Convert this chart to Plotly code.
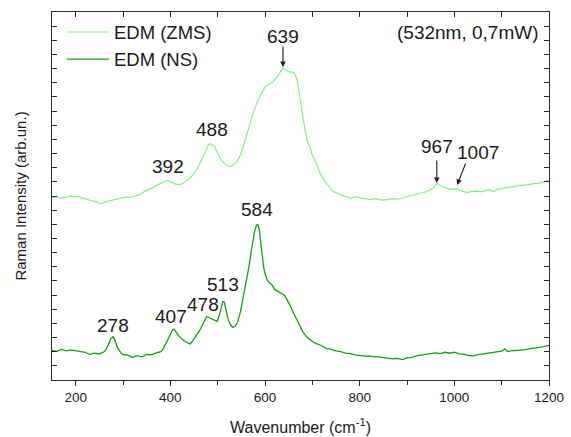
import plotly.graph_objects as go

# ---- data ----
ns_wavenumber = [150,160,170,180,190,200,210,220,230,240,250,260,265,270,275,279,283,288,295,300,
                 310,320,330,340,350,360,370,380,385,390,395,400,405,408,412,418,425,432,438,442,
                 448,455,462,468,473,477,482,488,494,499,503,507,511,514,518,522,527,532,537,542,
                 548,553,558,562,566,570,574,578,582,585,588,591,594,597,601,605,610,615,620,626,
                 632,638,642,648,654,660,667,673,680,688,695,701,710,720,730,740,750,760,770,780,
                 790,800,810,820,830,840,850,860,870,880,890,900,910,920,930,940,950,960,970,980,
                 990,1000,1010,1020,1030,1040,1050,1060,1070,1080,1090,1100,1107,1112,1120,1130,
                 1140,1150,1160,1170,1180,1190,1200]
ns_intensity = [2.10,2.02,2.16,2.06,2.13,2.09,2.03,1.96,1.80,1.90,1.84,1.99,2.20,2.55,2.95,3.05,2.80,2.30,1.95,1.80,
                1.76,1.60,1.72,1.64,1.80,1.78,1.92,2.00,2.20,2.55,2.90,3.25,3.55,3.60,3.40,3.10,2.90,2.70,2.60,2.55,
                2.80,3.15,3.50,3.90,4.30,4.50,4.40,4.32,4.20,4.15,4.50,5.10,5.55,5.50,4.90,4.30,3.90,3.72,3.80,4.10,
                4.80,5.70,6.60,7.10,8.00,8.90,9.80,10.50,10.95,10.98,10.60,9.80,8.90,8.00,7.40,7.05,6.85,6.72,6.40,6.30,
                6.18,6.06,5.95,5.60,5.20,4.75,4.25,3.80,3.40,3.05,2.85,2.70,2.55,2.42,2.22,2.17,2.06,2.01,1.90,1.87,
                1.78,1.73,1.68,1.70,1.63,1.64,1.58,1.56,1.50,1.53,1.44,1.56,1.60,1.70,1.74,1.82,1.84,1.91,1.86,1.96,
                1.89,1.96,1.84,1.82,1.73,1.71,1.79,1.84,1.93,1.97,2.01,2.04,2.20,2.02,2.06,2.09,
                2.10,2.14,2.22,2.24,2.31,2.37,2.45]

zms_wavenumber = [150,160,170,180,190,200,205,210,220,230,240,250,256,265,275,285,295,305,315,325,
                  336,345,355,363,372,380,388,395,402,410,420,430,442,450,458,467,474,480,485,490,
                  494,499,505,511,518,526,532,541,548,554,560,567,575,582,590,600,608,617,625,632,
                  638,645,652,659,663,668,672,676,680,685,690,695,700,708,716,725,735,744,758,770,
                  780,794,805,815,825,835,845,858,870,880,890,900,910,921,930,940,949,955,961,965,
                  970,978,985,993,1000,1006,1012,1020,1027,1035,1045,1055,1065,1075,1083,1090,1100,1110,1120,1130,
                  1145,1160,1175,1185,1192,1200]
zms_intensity = [12.89,12.97,12.84,12.93,12.99,12.95,12.97,12.88,12.81,12.68,12.62,12.49,12.46,12.61,12.69,12.81,12.84,12.92,12.88,13.01,
                 13.10,13.31,13.48,13.66,13.81,13.89,14.02,14.08,13.97,13.86,13.79,13.96,14.30,14.60,15.00,15.56,16.10,16.62,16.70,16.55,
                 16.48,16.10,15.70,15.42,15.20,15.07,15.15,15.42,15.90,16.48,17.20,18.00,18.87,19.50,20.10,20.70,20.90,21.06,21.40,21.80,
                 22.04,21.90,21.75,21.76,21.60,21.20,20.20,19.20,18.59,17.60,16.80,16.48,15.90,15.30,14.65,14.10,13.65,13.31,13.10,12.95,
                 12.86,12.96,12.84,12.79,12.74,12.81,12.71,12.75,12.81,12.77,12.86,12.92,12.99,13.10,13.20,13.30,13.45,13.55,13.80,13.90,
                 13.75,13.60,13.55,13.45,13.50,13.52,13.40,13.30,13.24,13.31,13.35,13.29,13.38,13.45,13.30,13.45,13.55,13.60,13.66,13.70,
                 13.80,13.85,13.91,13.95,14.05,14.10]

peak_labels = ["392", "488", "278", "407", "478", "513", "584"]
peak_label_x = [395, 488, 279, 401, 469, 511, 583]
peak_label_y = [15.05, 17.67, 3.82, 4.52, 5.30, 6.78, 12.08]

arrow_labels = ["639", "967", "1007"]
arrow_label_x = [638, 963, 1050]
arrow_label_y = [24.24, 16.47, 16.04]
arrow_head_x = [638, 963, 1006]
arrow_head_y = [22.12, 13.92, 13.78]
arrow_tail_dx = [0, 0, 9]
arrow_tail_dy = [-22, -24, -23]

x_tick_vals = [200, 400, 600, 800, 1000, 1200]
x_tick_text = ["200", "400", "600", "800", "1000", "1200"]

FONT = "Arial, Liberation Sans, sans-serif"
TXT = "#1a1a1a"
AX = "#2a2a2a"

fig = go.Figure()
fig.add_trace(go.Scatter(x=zms_wavenumber, y=zms_intensity, mode="lines", name="EDM (ZMS)",
                         line=dict(color="#80F080", width=1.2)))
fig.add_trace(go.Scatter(x=ns_wavenumber, y=ns_intensity, mode="lines", name="EDM (NS)",
                         line=dict(color="#14A014", width=1.3)))
# helper (empty) trace so the mirrored top/right axes are drawn
fig.add_trace(go.Scatter(x=[], y=[], xaxis="x2", yaxis="y2", showlegend=False, hoverinfo="skip"))

annotations = []
for t, x, y in zip(peak_labels, peak_label_x, peak_label_y):
    annotations.append(dict(x=x, y=y, text=t, showarrow=False, font=dict(size=19, color=TXT, family=FONT),
                            xanchor="center", yanchor="middle"))
for t, x, y in zip(arrow_labels, arrow_label_x, arrow_label_y):
    annotations.append(dict(x=x, y=y, text=t, showarrow=False, font=dict(size=19, color=TXT, family=FONT),
                            xanchor="center", yanchor="middle"))
for hx, hy, dx, dy in zip(arrow_head_x, arrow_head_y, arrow_tail_dx, arrow_tail_dy):
    annotations.append(dict(x=hx, y=hy, text="", showarrow=True, ax=dx, ay=dy, arrowhead=2,
                            arrowsize=1, arrowwidth=1.1, arrowcolor=TXT, standoff=0, startstandoff=0))
annotations.append(dict(x=1181, y=24.52, text="(532nm, 0,7mW)", showarrow=False,
                        font=dict(size=19, color=TXT, family=FONT), xanchor="right", yanchor="middle"))

fig.update_layout(
    width=571, height=437,
    margin=dict(l=52, r=22, t=12, b=57),
    paper_bgcolor="white", plot_bgcolor="white",
    font=dict(family=FONT, color=TXT),
    showlegend=True,
    legend=dict(x=0.02, y=0.996, xanchor="left", yanchor="top", bgcolor="rgba(0,0,0,0)",
                itemwidth=42, font=dict(size=18.5, color=TXT, family=FONT), tracegroupgap=0),
    annotations=annotations,
    xaxis=dict(range=[150, 1200], tickmode="array", tickvals=x_tick_vals, ticktext=x_tick_text,
               ticks="outside", ticklen=5, tickwidth=1, tickcolor=AX, automargin=False,
               minor=dict(dtick=100, ticks="outside", ticklen=4, tickwidth=1, tickcolor=AX),
               showline=True, linecolor=AX, linewidth=1.3, showgrid=False, zeroline=False,
               tickfont=dict(size=13.5, color=TXT, family=FONT),
               title=dict(text="Wavenumber (cm<sup>-1</sup>)", font=dict(size=16, color=TXT, family=FONT), standoff=17)),
    xaxis2=dict(range=[150, 1200], overlaying="x", side="top", anchor="y", dtick=100, tick0=100,
                ticks="inside", ticklen=5, tickwidth=1, tickcolor=AX, showticklabels=False, automargin=False,
                showline=True, linecolor=AX, linewidth=1.3, showgrid=False, zeroline=False),
    yaxis=dict(range=[0, 26], dtick=1, tick0=0, ticks="inside", ticklen=5, tickwidth=1, tickcolor=AX,
               showticklabels=False, showline=True, linecolor=AX, linewidth=1.3, showgrid=False, zeroline=False,
               automargin=False,
               title=dict(text="Raman Intensity (arb.un.)", font=dict(size=15, color=TXT, family=FONT), standoff=20)),
    yaxis2=dict(range=[0, 26], overlaying="y", side="right", anchor="x", dtick=1, tick0=0, automargin=False,
                ticks="inside", ticklen=5, tickwidth=1, tickcolor=AX, showticklabels=False,
                showline=True, linecolor=AX, linewidth=1.3, showgrid=False, zeroline=False),
)

fig.write_html("out.html", config={"displayModeBar": False},
               post_script="document.body.style.margin='0px';document.body.style.padding='0px';")
